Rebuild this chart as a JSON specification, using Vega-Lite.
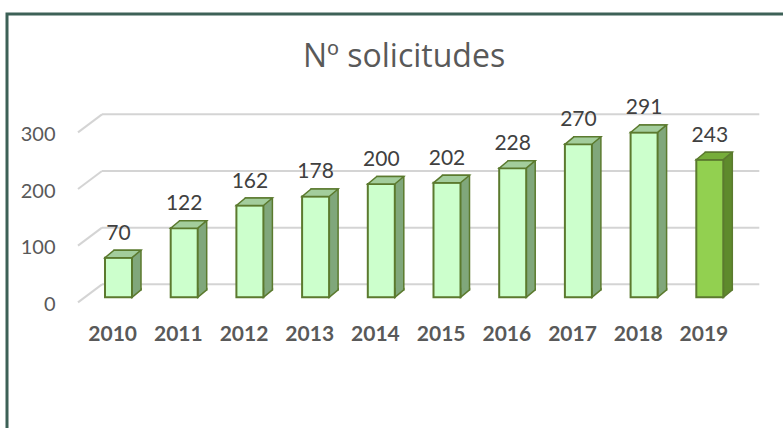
{
  "$schema": "https://vega.github.io/schema/vega-lite/v6.json",
  "width": 814,
  "height": 425,
  "autosize": "none",
  "padding": {"left": 7, "top": 14, "right": 0, "bottom": 0},
  "background": "white",
  "config": {
    "view": {"stroke": "#3d6157", "strokeWidth": 3},
    "font": "Lato"
  },
  "title": {
    "text": "Nº solicitudes",
    "font": "Open Sans",
    "fontSize": 32,
    "fontWeight": "normal",
    "color": "#595959",
    "anchor": "middle",
    "baseline": "alphabetic",
    "offset": 0,
    "dx": -10,
    "dy": 85
  },
  "datasets": {
    "bars": [
      {"year": "2010", "n": 70},
      {"year": "2011", "n": 122},
      {"year": "2012", "n": 162},
      {"year": "2013", "n": 178},
      {"year": "2014", "n": 200},
      {"year": "2015", "n": 202},
      {"year": "2016", "n": 228},
      {"year": "2017", "n": 270},
      {"year": "2018", "n": 291},
      {"year": "2019", "n": 243}
    ],
    "grid": [{"v": 0}, {"v": 100}, {"v": 200}, {"v": 300}]
  },
  "layer": [
    {
      "data": {"name": "grid"},
      "mark": {"type": "rule", "color": "#d4d4d4", "strokeWidth": 2, "xOffset": -16.5, "x2Offset": 49.5, "yOffset": -13, "y2Offset": -13},
      "encoding": {
        "x": {"datum": "2010", "type": "nominal"},
        "x2": {"datum": "2019"},
        "y": {"field": "v", "type": "quantitative", "scale": {"domain": [-250, 500], "nice": false, "zero": false}, "axis": {"values": [0, 100, 200, 300], "title": null, "domain": false, "ticks": false, "grid": false, "offset": -50, "labelPadding": 2, "labelFont": "Lato", "labelFontSize": 20, "labelColor": "#595959", "labelOffset": 7}}
      }
    },
    {
      "data": {"name": "grid"},
      "mark": {"type": "rule", "color": "#d4d4d4", "strokeWidth": 2, "xOffset": -40.5, "x2Offset": -16.5, "yOffset": 5, "y2Offset": -13},
      "encoding": {
        "x": {"datum": "2010", "type": "nominal"},
        "x2": {"datum": "2010"},
        "y": {"field": "v", "type": "quantitative"},
        "y2": {"field": "v"}
      }
    },
    {
      "data": {"name": "bars"},
      "mark": {"type": "bar", "xOffset": 9, "yOffset": -7.5, "y2Offset": -7.5, "stroke": "#5b7a2e", "strokeWidth": 1.5},
      "encoding": {
        "x": {"field": "year", "type": "nominal", "scale": {"range": [78.65, 735.65], "paddingInner": 0.589, "paddingOuter": 0.2945}, "axis": {"title": null, "domain": false, "ticks": false, "labelAngle": 0, "labelFont": "Lato", "labelFontSize": 21, "labelFontWeight": "bold", "labelColor": "#595959", "labelOffset": 18.5, "offset": -105, "labelPadding": 0, "labelBaseline": "middle"}},
        "y": {"field": "n", "type": "quantitative"},
        "color": {"condition": {"test": "datum.year === '2019'", "value": "#5e8a2c"}, "value": "#80a77b"}
      }
    },
    {
      "data": {"name": "bars"},
      "mark": {"type": "point", "filled": true, "size": 4, "shape": "M 22.5 -9.5 L 22.5 -7.5 L 13.5 0 L 13.5 -9.5", "stroke": "#5b7a2e", "strokeWidth": 1.5, "opacity": 1},
      "encoding": {
        "x": {"field": "year", "type": "nominal"},
        "y": {"datum": 0, "type": "quantitative"},
        "fill": {"condition": {"test": "datum.year === '2019'", "value": "#5e8a2c"}, "value": "#80a77b"}
      }
    },
    {
      "data": {"name": "bars"},
      "mark": {"type": "bar", "stroke": "#5b7a2e", "strokeWidth": 2},
      "encoding": {
        "x": {"field": "year", "type": "nominal"},
        "y": {"field": "n", "type": "quantitative"},
        "color": {"condition": {"test": "datum.year === '2019'", "value": "#92d050"}, "value": "#ccffcc"}
      }
    },
    {
      "data": {"name": "bars"},
      "mark": {"type": "point", "filled": true, "size": 4, "shape": "M -13.5 0 L 13.5 0 L 22.5 -7.5 L -4.5 -7.5 Z", "stroke": "#5b7a2e", "strokeWidth": 1.5, "opacity": 1},
      "encoding": {
        "x": {"field": "year", "type": "nominal"},
        "y": {"field": "n", "type": "quantitative"},
        "fill": {"condition": {"test": "datum.year === '2019'", "value": "#76ad3a"}, "value": "#a3cd9c"}
      }
    },
    {
      "data": {"name": "bars"},
      "mark": {"type": "text", "font": "Lato", "fontSize": 21, "color": "#404040", "baseline": "alphabetic", "dy": -18},
      "encoding": {
        "x": {"field": "year", "type": "nominal"},
        "y": {"field": "n", "type": "quantitative"},
        "text": {"field": "n", "type": "quantitative"}
      }
    }
  ]
}
